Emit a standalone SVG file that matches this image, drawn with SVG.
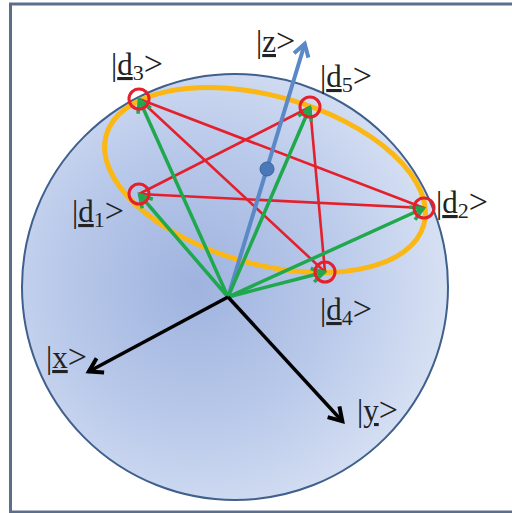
<svg xmlns="http://www.w3.org/2000/svg" width="512" height="513" viewBox="0 0 512 513">
  <defs>
    <radialGradient id="sph" gradientUnits="userSpaceOnUse" cx="195" cy="285" r="250">
      <stop offset="0" stop-color="#9fb3df"/>
      <stop offset="0.55" stop-color="#b9c9ea"/>
      <stop offset="1" stop-color="#d6e0f3"/>
    </radialGradient>
    <marker id="ahG" markerUnits="userSpaceOnUse" markerWidth="30" markerHeight="30" refX="0" refY="0" orient="auto" overflow="visible">
      <path d="M-13,-7 L-1,0 L-13,7" fill="none" stroke="#1fa84d" stroke-width="3.5" stroke-linejoin="miter"/>
    </marker>
    <marker id="ahB" markerUnits="userSpaceOnUse" markerWidth="30" markerHeight="30" refX="0" refY="0" orient="auto" overflow="visible">
      <path d="M-13,-7.5 L-1,0 L-13,7.5" fill="none" stroke="#5b88c6" stroke-width="4" stroke-linejoin="miter"/>
    </marker>
    <marker id="ahK" markerUnits="userSpaceOnUse" markerWidth="30" markerHeight="30" refX="0" refY="0" orient="auto" overflow="visible">
      <path d="M-14,-8 L-1,0 L-14,8" fill="none" stroke="#000" stroke-width="4" stroke-linejoin="miter"/>
    </marker>
  </defs>
  <style>
    .lbl { font-family: "Liberation Serif", "Times New Roman", serif; font-size: 31px; fill: #222; }
    .sub { font-size: 22px; }
    .gt { font-size: 34px; }
    .red { stroke: #e3202b; stroke-width: 2.6; fill: none; }
    .pt { stroke: #e3202b; stroke-width: 3; fill: none; }
    .grn { stroke: #1fa84d; stroke-width: 3.5; fill: none; marker-end: url(#ahG); }
    .blk { stroke: #000; stroke-width: 3.5; fill: none; marker-end: url(#ahK); }
  </style>

  <rect x="10.5" y="4" width="510" height="508" fill="#fff" stroke="#5b6f8b" stroke-width="3"/>

  <g id="sphere">
    <circle cx="235" cy="287" r="213" fill="url(#sph)" stroke="#3f5f8c" stroke-width="2"/>
  </g>

  <g id="ring">
    <ellipse cx="265" cy="180" rx="165" ry="84" transform="rotate(15.8 265 180)" fill="none" stroke="#fbb713" stroke-width="5"/>
  </g>

  <g id="connectors">
    <g id="star">
      <line class="red" x1="139" y1="99" x2="424" y2="208"/>
      <line class="red" x1="424" y1="208" x2="139" y2="194"/>
      <line class="red" x1="139" y1="194" x2="310" y2="107"/>
      <line class="red" x1="310" y1="107" x2="325" y2="272"/>
      <line class="red" x1="325" y1="272" x2="139" y2="99"/>
    </g>
    <line id="zaxis" x1="228" y1="297" x2="305" y2="43" stroke="#5b88c6" stroke-width="4" marker-end="url(#ahB)"/>
    <g id="green-arrows">
      <line class="grn" x1="228" y1="297" x2="139" y2="99"/>
      <line class="grn" x1="228" y1="297" x2="139" y2="194"/>
      <line class="grn" x1="228" y1="297" x2="310" y2="107"/>
      <line class="grn" x1="228" y1="297" x2="424" y2="208"/>
      <line class="grn" x1="228" y1="297" x2="325" y2="272"/>
    </g>
    <line id="xaxis" class="blk" x1="228" y1="297" x2="88" y2="372"/>
    <line id="yaxis" class="blk" x1="228" y1="297" x2="343" y2="422"/>
  </g>

  <g id="zdot">
    <circle cx="267" cy="169" r="7" fill="#4a78b8" stroke="#3a64a0" stroke-width="1"/>
  </g>

  <g id="d3"><circle class="pt" cx="139" cy="99" r="10"/>
    <text class="lbl" x="111" y="75">|<tspan text-decoration="underline">d</tspan><tspan class="sub" dy="5">3</tspan><tspan class="gt" dy="-5">&gt;</tspan></text></g>
  <g id="d1"><circle class="pt" cx="139" cy="194" r="10"/>
    <text class="lbl" x="72" y="222">|<tspan text-decoration="underline">d</tspan><tspan class="sub" dy="5">1</tspan><tspan class="gt" dy="-5">&gt;</tspan></text></g>
  <g id="d5"><circle class="pt" cx="310" cy="107" r="10"/>
    <text class="lbl" x="320" y="87">|<tspan text-decoration="underline">d</tspan><tspan class="sub" dy="5">5</tspan><tspan class="gt" dy="-5">&gt;</tspan></text></g>
  <g id="d2"><circle class="pt" cx="424" cy="208" r="10"/>
    <text class="lbl" x="436" y="213">|<tspan text-decoration="underline">d</tspan><tspan class="sub" dy="5">2</tspan><tspan class="gt" dy="-5">&gt;</tspan></text></g>
  <g id="d4"><circle class="pt" cx="325" cy="272" r="10"/>
    <text class="lbl" x="320" y="320">|<tspan text-decoration="underline">d</tspan><tspan class="sub" dy="5">4</tspan><tspan class="gt" dy="-5">&gt;</tspan></text></g>

  <g id="lz"><text class="lbl" x="256" y="52">|<tspan text-decoration="underline">z</tspan><tspan class="gt">&gt;</tspan></text></g>
  <g id="lx"><text class="lbl" x="46" y="368">|<tspan text-decoration="underline">x</tspan><tspan class="gt">&gt;</tspan></text></g>
  <g id="ly"><text class="lbl" x="357" y="421">|<tspan text-decoration="underline">y</tspan><tspan class="gt">&gt;</tspan></text></g>
</svg>
